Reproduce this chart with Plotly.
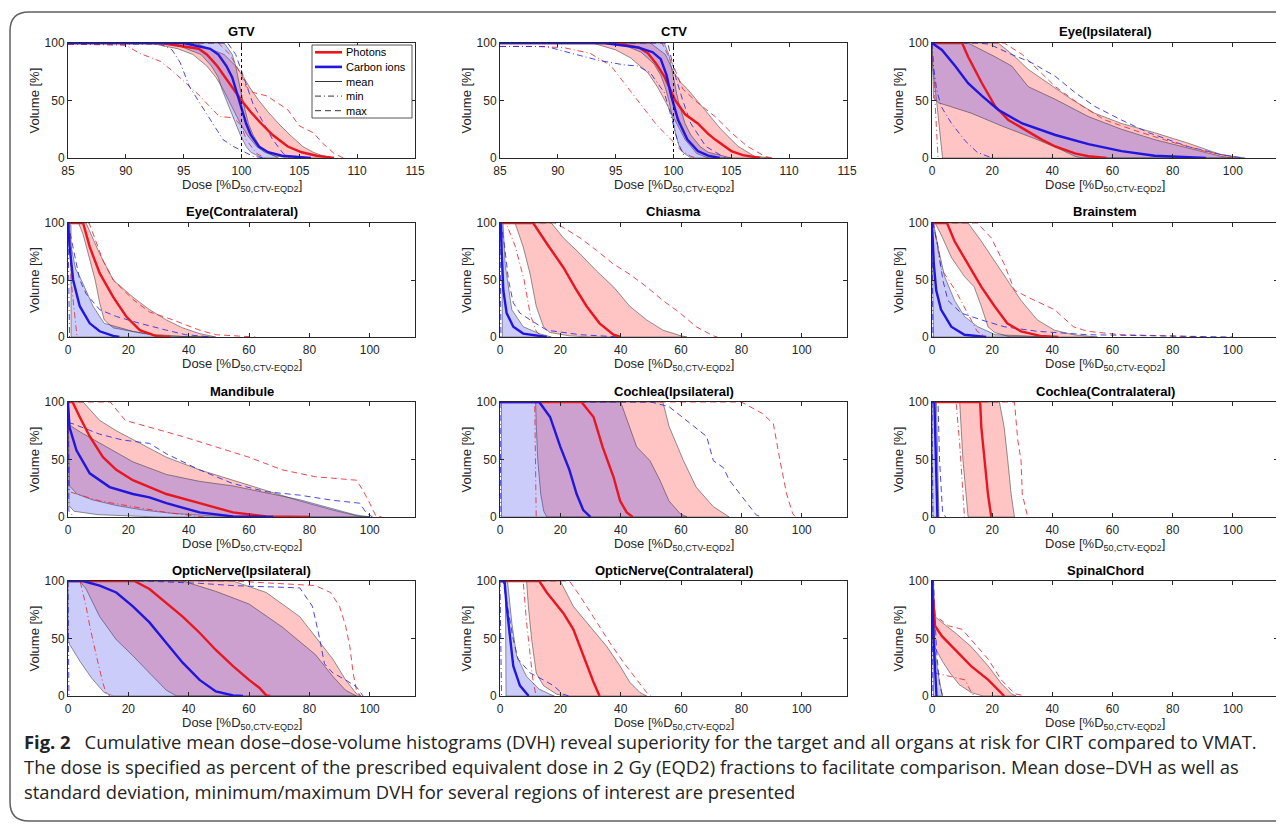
import plotly.graph_objects as go

W, H = 1284, 831
PAGE_MARGIN = 8  # default body margin of the html page; positions below are page pixels

# ---------------- data ----------------
TITLES = ["GTV", "CTV", "Eye(Ipsilateral)", "Eye(Contralateral)", "Chiasma", "Brainstem",
          "Mandibule", "Cochlea(Ipsilateral)", "Cochlea(Contralateral)",
          "OpticNerve(Ipsilateral)", "OpticNerve(Contralateral)", "SpinalChord"]
VOL_TICKS = [0, 50, 100]
TARGET_TICKS = [85, 90, 95, 100, 105, 110, 115]
OAR_TICKS = [0, 20, 40, 60, 80, 100]
TARGET_RANGE = [85, 115]
OAR_RANGE = [0, 115]
REF_DOSE = 100
LEGEND_LABELS = ["Photons", "Carbon ions", "mean", "min", "max"]
X_TITLE = "Dose [%D<sub>50,CTV-EQD2</sub>]"
Y_TITLE = "Volume [%]"

# each curve: [dose, volume] points; ph = photons, c = carbon ions
# lo/hi = band (mean +/- SD) boundaries
GTV = dict(
    ph_mean=[[93, 100], [96.3, 95], [97, 90], [97.9, 80], [98.6, 70], [99.3, 60], [100, 50], [100.8, 40], [101.7, 30], [102.7, 20], [104, 10], [105.2, 5], [106.5, 2], [108, 0]],
    ph_lo=[[92, 100], [94.5, 95], [95.8, 90], [97, 80], [97.8, 70], [98.4, 60], [98.9, 50], [99.4, 40], [99.9, 30], [100.5, 20], [101.3, 10], [102, 5], [102.8, 2], [104, 0]],
    ph_hi=[[96, 100], [98.5, 90], [99.5, 80], [100.2, 70], [100.8, 60], [101.5, 50], [102.3, 40], [103.2, 30], [104.2, 20], [105.3, 10], [106.2, 5], [107, 2], [108, 0]],
    c_mean=[[95, 100], [97.3, 95], [98, 90], [98.7, 80], [99.2, 70], [99.5, 60], [99.8, 50], [100.1, 40], [100.4, 30], [100.8, 20], [101.5, 10], [102.3, 5], [103.5, 2], [106, 0]],
    c_lo=[[94, 100], [96.5, 90], [97.4, 80], [98, 70], [98.3, 60], [98.7, 50], [99.1, 40], [99.5, 30], [99.9, 20], [100.4, 10], [100.8, 5], [101.8, 0]],
    c_hi=[[98.5, 100], [99.2, 90], [99.5, 80], [99.7, 70], [99.9, 60], [100.1, 50], [100.35, 40], [100.6, 30], [101, 20], [101.6, 10], [102.2, 5], [103.2, 0]],
    ph_min=[[85, 99], [90, 98], [91.2, 91], [93, 84], [94, 76], [95.2, 65], [96.4, 54], [97.5, 42], [98.1, 36], [99.3, 35], [100, 28], [100.4, 16], [101.3, 4], [102, 0]],
    c_min=[[85, 99], [93, 99], [94, 94], [94.7, 83], [95.5, 62], [96.4, 48], [97.5, 30], [98.4, 16], [99.3, 10], [100.1, 6], [101, 1.5], [102, 0]],
    ph_max=[[98, 100], [99, 90], [100, 72], [100.4, 62], [101, 57], [102.2, 54], [104, 42], [105, 28], [106.2, 22], [107, 13], [108, 4], [108.8, 0]],
    c_max=[[98.8, 100], [99.5, 90], [100, 75], [100.5, 60], [101, 47], [101.6, 36], [102.2, 25], [102.7, 16], [103.6, 4], [104.2, 0]],
)
CTV = dict(
    ph_mean=[[95, 100], [97, 96], [97.8, 91], [98.5, 82], [99.2, 71], [99.7, 60], [100.1, 51], [101, 38], [102.1, 30], [103, 21], [103.6, 16], [105, 6], [106, 2.5], [107.5, 0]],
    ph_lo=[[93, 100], [95, 94], [96.3, 87], [97.8, 74], [98.6, 62], [99.2, 51], [99.7, 41], [100.1, 33], [101, 16], [102, 4], [103, 0]],
    ph_hi=[[98, 100], [99.3, 90], [100, 75], [100.6, 66], [101.2, 60], [102.7, 42], [104.1, 25], [105.6, 10], [107, 1.5], [108.5, 0]],
    c_mean=[[94, 100], [97, 96], [98.2, 92], [98.9, 86], [99.4, 72], [99.8, 54], [100.1, 43], [100.4, 33], [101.2, 16], [102.1, 6], [103, 2], [104, 0]],
    c_lo=[[94.5, 100], [96, 97], [97.2, 92], [98.3, 82], [98.9, 72], [99.3, 61], [99.6, 50], [99.8, 40], [100, 30], [100.2, 20], [100.5, 10], [100.8, 5], [101.5, 0]],
    c_hi=[[99.2, 100], [99.6, 90], [99.8, 80], [100, 70], [100.2, 60], [100.4, 50], [100.7, 40], [101, 30], [101.5, 20], [102.3, 10], [103, 5], [105, 0]],
    ph_min=[[85, 97], [88, 97], [90.5, 96], [92.8, 91], [94.6, 80], [96, 62], [97.5, 42], [98.6, 28], [99.8, 16], [100.6, 7], [101.5, 1.5], [102, 0]],
    c_min=[[85, 97], [89, 97], [91.2, 91], [93.5, 85], [95.7, 81], [96.9, 80], [98, 74], [99.2, 57], [99.8, 36], [100.4, 13], [101, 0]],
    ph_max=[[99, 100], [100, 80], [100.8, 60], [102.1, 48], [103.6, 36], [105, 22], [106.4, 10], [107.9, 1.5], [108.5, 0]],
    c_max=[[99.5, 100], [100.2, 70], [100.8, 50], [101.5, 30], [102.8, 10], [104.5, 0]],
)
EYE_IPSI = dict(
    ph_mean=[[10, 100], [12, 88], [16.6, 65], [21, 45], [25.4, 33], [30, 26], [36.5, 16], [41, 10], [47.5, 4], [52, 1.5], [58, 0]],
    ph_lo=[[0, 100], [0.2, 80], [1.5, 50], [2.8, 20], [3.5, 0]],
    ph_hi=[[22, 100], [27.6, 88], [32, 77], [38.7, 65], [46.4, 51], [54, 39], [63, 30], [74, 22], [85, 13], [96, 3], [104, 0]],
    c_mean=[[0, 100], [3.3, 94], [7.7, 80], [12, 65], [16.6, 54], [22, 42], [30, 30], [41, 20], [52, 12], [63, 6], [74, 2], [91, 0]],
    c_lo=[[0, 100], [0.5, 52], [2.2, 48], [13, 39], [24, 27], [35, 16], [43, 7], [47.5, 1.5], [50, 0]],
    c_hi=[[12, 100], [21, 88], [26.5, 80], [32, 62], [41, 51], [52, 36], [63, 25], [74, 16], [85, 9], [96, 1.5], [100, 0]],
    ph_min=[[0, 100], [0.5, 70], [1.2, 40], [2, 0]],
    c_min=[[0, 100], [0.5, 80], [1.5, 60], [3, 45], [6.5, 30], [11, 15], [15, 5], [20, 0]],
    ph_max=[[24, 100], [30, 90], [35, 77], [41, 62], [50, 45], [57.5, 33], [68.5, 23], [79.5, 14], [90.6, 6], [101.6, 0]],
    c_max=[[15, 100], [19, 99], [26.5, 90], [33, 83], [41, 71], [47.5, 57], [54, 45], [63, 33], [72, 22], [85, 10], [96, 3], [103, 0]],
)
EYE_CONTRA = dict(
    ph_mean=[[5, 100], [7.2, 79], [10.5, 56], [15, 35], [19.3, 18], [23.8, 6], [29, 1], [34, 0]],
    ph_lo=[[3.5, 100], [5, 90], [7, 70], [9, 50], [10.5, 30], [12, 15], [15, 8], [25, 3], [40, 0]],
    ph_hi=[[6, 100], [10.5, 73], [15, 50], [21.5, 35], [27, 24], [32.6, 15], [38, 8], [43.6, 3], [49, 0]],
    c_mean=[[0, 100], [0.5, 80], [1.7, 50], [3.9, 27], [7.2, 12], [10.5, 5], [15, 1], [17, 0]],
    c_lo=[[0, 100], [1, 98], [1, 0]],
    c_hi=[[0.3, 100], [1, 80], [2.5, 60], [3.9, 53], [8.3, 27], [12, 12], [21.5, 5], [30, 1], [47, 0]],
    ph_min=[[0.5, 100], [1, 50], [3, 0]],
    c_min=[[0, 100], [0.5, 0]],
    ph_max=[[7, 100], [11.6, 67], [15, 50], [21.5, 33], [27, 22], [34.8, 15], [43.6, 6], [49, 2], [62, 0]],
    c_max=[[0, 100], [2.2, 70], [3.9, 50], [6, 38], [10.5, 24], [16, 18], [23.8, 12], [32.6, 6], [39, 2], [48, 0]],
)
CHIASMA = dict(
    ph_mean=[[11, 100], [15.5, 82], [21, 61], [25.4, 41], [28.7, 27], [33, 12], [37.6, 2], [40, 0]],
    ph_lo=[[5, 100], [7.7, 79], [10, 55], [12, 27], [14.4, 9], [16.5, 4], [23, 1], [30, 0]],
    ph_hi=[[17, 100], [21, 87], [26.5, 73], [32, 58], [37.6, 44], [43, 27], [48.6, 15], [54, 6], [60, 1], [62, 0]],
    c_mean=[[0.3, 100], [0.5, 79], [1.1, 41], [2.2, 21], [4.4, 9], [7.7, 3], [15.5, 0]],
    c_lo=[[0, 100], [0.6, 97], [0.8, 0]],
    c_hi=[[1, 100], [1.7, 64], [3.9, 24], [7.7, 9], [13, 3], [17, 0]],
    ph_min=[[2, 100], [5, 80], [8, 50], [10, 20], [12, 5], [14, 0]],
    c_min=[[0, 100], [0.3, 0]],
    ph_max=[[18, 100], [21, 96], [26.5, 87], [32, 76], [37.6, 64], [43, 55], [48.6, 44], [54, 32], [59.7, 21], [65, 9], [70.7, 1], [72, 0]],
    c_max=[[0.3, 100], [1.5, 80], [2.8, 50], [4.4, 30], [6.6, 21], [10, 15], [15.5, 6], [26.5, 2], [40, 0]],
)
BRAINSTEM = dict(
    ph_mean=[[5, 100], [7.5, 84], [12, 64], [16.4, 44], [20.8, 27], [25, 12], [29.6, 5], [36, 1], [42, 0]],
    ph_lo=[[1, 100], [3, 90], [6.4, 70], [10.8, 53], [14, 44], [16.4, 27], [18.6, 9], [20.8, 4], [26, 0]],
    ph_hi=[[12, 100], [16.4, 84], [20.8, 67], [25, 50], [29.6, 32], [35, 15], [40.7, 6], [47, 2], [55, 0]],
    c_mean=[[0, 100], [0.6, 64], [1.4, 41], [3, 24], [6.4, 9], [10.8, 2], [18, 0]],
    c_lo=[[0, 100], [0.5, 0]],
    c_hi=[[0.5, 100], [2, 79], [4.2, 53], [7.5, 32], [10.8, 18], [15.2, 9], [18.6, 5], [21, 2], [40, 0]],
    ph_min=[[0.5, 100], [3, 60], [8, 40], [12, 20], [15, 5], [18, 0]],
    c_min=[[0, 100], [0.3, 0]],
    ph_max=[[15, 100], [19.7, 87], [24, 64], [27.4, 41], [31.8, 35], [40.7, 24], [47, 9], [51.7, 5], [62.8, 2], [79, 1], [90, 0]],
    c_max=[[0.3, 100], [2, 79], [3.6, 50], [5.3, 32], [9.7, 21], [16.4, 15], [24, 9], [35, 5], [51.7, 2], [75, 1], [100, 0]],
)
MANDIBULE = dict(
    ph_mean=[[1.5, 100], [3.9, 87], [7.2, 70], [11.6, 52], [16, 41], [21.5, 32], [27, 26], [32.6, 20], [43.6, 12], [54.7, 4], [65.7, 0.5], [80, 0]],
    ph_lo=[[0, 100], [0.5, 27], [3, 20], [8, 15], [16, 10], [25, 6], [35, 3], [48, 1], [60, 0]],
    ph_hi=[[5, 100], [10.5, 84], [16, 75], [21.5, 67], [32.6, 52], [43.6, 41], [54.7, 32], [65.7, 23], [76.8, 14], [87.8, 6], [96.7, 0.5], [100, 0]],
    c_mean=[[0, 100], [0.5, 78], [2.8, 58], [7.2, 38], [13.8, 26], [21.5, 20], [27, 17], [32.6, 12], [43.6, 4], [54.7, 0.5], [68, 0]],
    c_lo=[[0, 100], [0.3, 10], [2, 5], [10, 2], [30, 0]],
    c_hi=[[0, 100], [0.5, 80], [4, 74], [10.5, 64], [16, 56], [21.5, 48], [32.6, 37], [43.6, 31], [54.7, 27], [65.7, 21], [76.8, 15], [87.8, 7], [95, 2], [100, 0]],
    ph_min=[[0, 100], [0.5, 22], [2.8, 20], [10.5, 14], [21.5, 9], [32.6, 4], [45, 0]],
    c_min=[[0, 100], [0.3, 5], [2, 0]],
    ph_max=[[14, 100], [19, 84], [27, 78], [38, 70], [49, 61], [60, 52], [71, 41], [82, 35], [95.6, 32], [97.8, 23], [100, 12], [102, 1], [104, 0]],
    c_max=[[0, 100], [0.3, 82], [1.7, 81], [10.5, 72], [18, 67], [27, 64], [32.6, 55], [43.6, 41], [54.7, 29], [65.7, 22], [76.8, 19], [87.8, 14.5], [96.7, 12], [99, 3], [101, 0]],
)
COCHLEA_IPSI = dict(
    ph_mean=[[27, 100], [31, 87], [34, 61], [37.6, 35], [39.8, 14], [42, 4], [44, 0]],
    ph_lo=[[11.8, 100], [12, 80], [12.5, 50], [13.5, 20], [14.5, 5], [15.5, 0]],
    ph_hi=[[54, 100], [56, 79], [60.8, 49], [65, 26], [70.7, 9], [76, 0]],
    c_mean=[[13, 100], [16.6, 87], [20, 61], [23, 41], [25.4, 20], [27.6, 6], [30, 0]],
    c_lo=[[0, 100], [0.5, 99], [0.5, 0]],
    c_hi=[[40, 100], [43, 78], [45.3, 61], [49.7, 49], [53, 32], [56, 14], [59.7, 3], [62, 0]],
    ph_min=[[11.5, 100], [12, 0]],
    c_min=[[0, 100], [0.3, 0]],
    ph_max=[[80, 100], [87, 90], [90.6, 81], [92.8, 49], [95, 20], [97, 3], [98, 0]],
    c_max=[[50, 100], [56, 96], [63, 81], [68.5, 70], [70.7, 49], [74, 43], [76, 32], [79.6, 20], [83, 9], [85, 1.5], [87, 0]],
)
COCHLEA_CONTRA = dict(
    ph_mean=[[16, 100], [16.4, 78], [17.5, 49], [18.6, 20], [19.7, 0]],
    ph_lo=[[9.2, 100], [10.3, 49], [11.4, 20], [12, 0]],
    ph_hi=[[22.4, 100], [24, 78], [25.2, 49], [26.3, 20], [27.4, 0]],
    c_mean=[[0.8, 100], [1.3, 50], [1.8, 0]],
    c_lo=[[0, 100], [0.3, 0]],
    c_hi=[[1.5, 100], [2, 50], [2.3, 0]],
    ph_min=[[8, 100], [9.2, 64], [10.3, 20], [10.8, 0]],
    c_min=[[0, 100], [0.3, 0]],
    ph_max=[[27.4, 100], [28.5, 67], [29.6, 49], [30, 20], [31.8, 0]],
    c_max=[[2, 100], [2.5, 50], [3, 20], [3.5, 5], [4.5, 0]],
)
OPTIC_IPSI = dict(
    ph_mean=[[22, 100], [27, 93], [32.6, 81], [38, 69], [43.6, 55], [49, 40], [54.7, 26], [60, 14], [63.5, 7], [65.7, 0.5], [67, 0]],
    ph_lo=[[3.9, 100], [6, 93], [10.5, 69], [16, 49], [21.5, 35], [27, 20], [32.6, 5], [36, 0]],
    ph_hi=[[54.7, 100], [65.7, 90], [76.8, 69], [82, 52], [87.8, 32], [92, 14], [95.6, 2], [97, 0]],
    c_mean=[[5, 100], [10.5, 96], [16, 90], [21.5, 78], [27, 64], [32.6, 46], [38, 29], [43.6, 14], [49, 4], [54.7, 0.5], [58, 0]],
    c_lo=[[0, 100], [0, 50], [0.5, 45], [4, 30], [8, 15], [12, 3], [15, 0]],
    c_hi=[[38, 100], [49, 91], [60, 80], [71, 60], [82, 36], [87.8, 17], [92, 5], [95.6, 0]],
    ph_min=[[4, 100], [6, 78], [7.2, 61], [9.4, 35], [11.6, 11], [12.7, 2], [14, 0]],
    c_min=[[0, 100], [0.3, 0]],
    ph_max=[[55, 100], [82, 96], [87, 90], [90, 78], [92, 61], [93.4, 43], [94.5, 20], [95.6, 5], [97, 0]],
    c_max=[[25, 100], [43.6, 98], [54.7, 96], [76.8, 94], [81, 78], [83, 55], [85, 28], [87.8, 20], [92, 14], [95.6, 8], [97.8, 0]],
)
OPTIC_CONTRA = dict(
    ph_mean=[[13, 100], [15.5, 90], [21, 72], [24.3, 58], [27.6, 35], [31, 12], [33, 0]],
    ph_lo=[[8.8, 100], [9.4, 78], [10.5, 49], [12, 20], [14.4, 9], [18.8, 1.5], [22, 0]],
    ph_hi=[[20, 100], [24.3, 78], [29.8, 61], [35.4, 43], [39.8, 26], [43, 12], [46.4, 3], [48.6, 0]],
    c_mean=[[1.5, 100], [2.2, 78], [3.3, 49], [4.4, 26], [6.6, 9], [8.8, 1.5], [9.5, 0]],
    c_lo=[[0, 100], [1.8, 98], [2, 0]],
    c_hi=[[2.5, 100], [3.9, 64], [5.5, 35], [8.8, 17], [13, 6], [16.5, 1.5], [18, 0]],
    ph_min=[[7.7, 100], [8.8, 64], [10, 35], [11, 12], [12, 0]],
    c_min=[[0, 100], [0.5, 0]],
    ph_max=[[23, 100], [26.5, 87], [32, 64], [36.5, 46], [41, 29], [45.3, 14], [48.6, 3], [50, 0]],
    c_max=[[1, 100], [3, 70], [4.4, 49], [6, 32], [10, 20], [14.4, 14], [17.7, 9], [21, 1.5], [23, 0]],
)
SPINAL = dict(
    ph_mean=[[0, 100], [0.5, 78], [1, 61], [3.3, 52], [7.7, 40], [13, 26], [18.7, 14], [22, 5], [24, 0]],
    ph_lo=[[0, 100], [0.3, 60], [1, 42], [3.5, 30], [6, 20], [9, 10], [13, 3], [17, 0]],
    ph_hi=[[0, 100], [0.5, 70], [3.3, 64], [7.7, 55], [13, 43], [18.7, 26], [23, 11], [26.4, 2], [28, 0]],
    c_mean=[[0, 100], [0.5, 50], [1.5, 0]],
    c_lo=[[0, 100], [0.5, 0]],
    c_hi=[[0.5, 100], [1, 40], [2, 20], [3.5, 0]],
    ph_min=[[0, 100], [0.5, 50], [1, 20], [7.7, 16], [11, 14], [12.7, 5], [14, 0]],
    c_min=[[0, 100], [0.3, 0]],
    ph_max=[[0, 100], [1, 70], [5.5, 61], [10, 58], [13, 49], [18.7, 32], [23, 14], [27.5, 2], [31, 0]],
    c_max=[[0.5, 100], [1.5, 40], [2.5, 10], [3.5, 0]],
)

PANEL_DATA = [GTV, CTV, EYE_IPSI, EYE_CONTRA, CHIASMA, BRAINSTEM, MANDIBULE,
              COCHLEA_IPSI, COCHLEA_CONTRA, OPTIC_IPSI, OPTIC_CONTRA, SPINAL]
IS_TARGET = [True, True] + [False] * 10

CAPTION_LINES = [
    "<b>Fig. 2</b>\u2002 Cumulative mean dose\u2013dose-volume histograms (DVH) reveal superiority for the target and all organs at risk for CIRT compared to VMAT.",
    "The dose is specified as percent of the prescribed equivalent dose in 2 Gy (EQD2) fractions to facilitate comparison. Mean dose\u2013DVH as well as",
    "standard deviation, minimum/maximum DVH for several regions of interest are presented",
]

# ---------------- layout / style ----------------
COL_X = [(68, 415), (500, 847), (932, 1278)]
ROW_Y = [(43, 158), (223, 337), (402, 517), (581, 696)]

RED = "rgb(232,22,32)"
BLUE = "rgb(32,22,222)"
RED_THIN = "rgba(232,40,50,0.85)"
BLUE_THIN = "rgba(40,40,225,0.85)"
RED_FILL = "rgba(255,40,40,0.27)"
BLUE_FILL = "rgba(40,40,240,0.24)"
EDGE = "rgba(50,50,50,0.75)"
AX_COL = "rgb(40,40,40)"
FONT = "Liberation Sans, Arial, sans-serif"


def px(v):
    return (v - PAGE_MARGIN) / W


def py(v):
    return 1 - (v - PAGE_MARGIN) / H


fig = go.Figure()


def curve(pts, xmin):
    xs = [p[0] for p in pts]
    ys = [p[1] for p in pts]
    if ys[0] >= 100 and xs[0] > xmin:
        xs = [xmin] + xs
        ys = [100] + ys
    return xs, ys


annotations = []
shapes = []
layout_axes = {}

for i, data in enumerate(PANEL_DATA):
    r, c = divmod(i, 3)
    sfx = "" if i == 0 else str(i + 1)
    xa, ya = "x" + sfx, "y" + sfx
    xr = TARGET_RANGE if IS_TARGET[i] else OAR_RANGE
    xt = TARGET_TICKS if IS_TARGET[i] else OAR_TICKS
    xmin = xr[0]
    x0, x1 = COL_X[c]
    y0, y1 = ROW_Y[r]

    # SD bands
    for lo, hi, fill in [(data["ph_lo"], data["ph_hi"], RED_FILL),
                         (data["c_lo"], data["c_hi"], BLUE_FILL)]:
        lx, ly = curve(lo, xmin)
        hx, hy = curve(hi, xmin)
        fig.add_trace(go.Scatter(
            x=lx + hx[::-1], y=ly + hy[::-1], xaxis=xa, yaxis=ya, mode="lines",
            fill="toself", fillcolor=fill, line=dict(color=EDGE, width=0.7),
            hoverinfo="skip", showlegend=False))

    # min / max
    for key, col, dash in [("ph_min", RED_THIN, "dashdot"), ("c_min", BLUE_THIN, "dashdot"),
                           ("ph_max", RED_THIN, "dash"), ("c_max", BLUE_THIN, "dash")]:
        cx, cy = curve(data[key], xmin)
        fig.add_trace(go.Scatter(
            x=cx, y=cy, xaxis=xa, yaxis=ya, mode="lines",
            line=dict(color=col, width=1, dash="6px,3px,1px,3px" if dash == "dashdot" else "6px,4px"),
            hoverinfo="skip", showlegend=False))

    # means
    for key, col in [("ph_mean", RED), ("c_mean", BLUE)]:
        cx, cy = curve(data[key], xmin)
        fig.add_trace(go.Scatter(
            x=cx, y=cy, xaxis=xa, yaxis=ya, mode="lines",
            line=dict(color=col, width=2.4), hoverinfo="skip", showlegend=False))

    if IS_TARGET[i]:
        fig.add_trace(go.Scatter(
            x=[REF_DOSE, REF_DOSE], y=[0, 100], xaxis=xa, yaxis=ya, mode="lines",
            line=dict(color="black", width=1, dash="dot"), hoverinfo="skip", showlegend=False))

    common = dict(showline=True, mirror="ticks", linecolor=AX_COL, linewidth=1,
                  ticks="inside", ticklen=4, tickcolor=AX_COL, showgrid=False, zeroline=False,
                  automargin=False, fixedrange=True,
                  tickfont=dict(family=FONT, size=12, color="rgb(38,38,38)"))
    layout_axes["xaxis" + sfx] = dict(domain=[px(x0), px(x1)], anchor=ya, range=xr, tickvals=xt,
                                      ticklabelstandoff=2, **common)
    layout_axes["yaxis" + sfx] = dict(domain=[py(y1), py(y0)], anchor=xa, range=[0, 100],
                                      tickvals=VOL_TICKS, **common)

    # titles
    annotations.append(dict(text="<b>%s</b>" % TITLES[i], x=px((x0 + x1) / 2), y=py(y0 - 11),
                            xref="paper", yref="paper", showarrow=False, xanchor="center", yanchor="middle",
                            font=dict(family=FONT, size=13, color="black")))
    annotations.append(dict(text=X_TITLE, x=px((x0 + x1) / 2), y=py(y1 + 27),
                            xref="paper", yref="paper", showarrow=False, xanchor="center", yanchor="middle",
                            font=dict(family=FONT, size=13, color="rgb(38,38,38)")))
    annotations.append(dict(text=Y_TITLE, x=px(x0 - 34), y=py((y0 + y1) / 2), textangle=-90,
                            xref="paper", yref="paper", showarrow=False, xanchor="center", yanchor="middle",
                            font=dict(family=FONT, size=13, color="rgb(38,38,38)")))

# ---------------- legend (inside GTV panel) ----------------
LX0, LX1, LY0, LY1 = 312, 412, 45, 118
shapes.append(dict(type="rect", xref="paper", yref="paper", x0=px(LX0), x1=px(LX1),
                   y0=py(LY1), y1=py(LY0), line=dict(color=AX_COL, width=0.8),
                   fillcolor="white", layer="above"))
leg_styles = [(RED, 2.6, "solid"), (BLUE, 2.6, "solid"), ("black", 0.8, "solid"),
              ("black", 0.8, "6px,3px,1px,3px"), ("black", 0.8, "6px,4px")]
row_h = (LY1 - LY0) / len(LEGEND_LABELS)
for k, lab in enumerate(LEGEND_LABELS):
    yy = LY0 + row_h * (k + 0.5)
    col, wd, ds = leg_styles[k]
    shapes.append(dict(type="line", xref="paper", yref="paper", x0=px(315), x1=px(342),
                       y0=py(yy), y1=py(yy), line=dict(color=col, width=wd, dash=ds), layer="above"))
    annotations.append(dict(text=lab, x=px(344), y=py(yy), xref="paper", yref="paper",
                            showarrow=False, xanchor="left", yanchor="middle",
                            font=dict(family=FONT, size=11, color="black")))

# ---------------- figure frame and caption ----------------
shapes.append(dict(type="path", xref="paper", yref="paper", layer="below",
                   path="M %f,%f L %f,%f Q %f,%f %f,%f L %f,%f Q %f,%f %f,%f L %f,%f" % (
                       px(1300), py(12), px(29), py(12), px(10), py(12), px(10), py(31),
                       px(10), py(802), px(10), py(821), px(29), py(821), px(1300), py(821)),
                   line=dict(color="rgb(95,95,95)", width=1.5)))

for k, line in enumerate(CAPTION_LINES):
    annotations.append(dict(text=line, x=px(22), y=py(741 + 25 * k), xref="paper", yref="paper",
                            showarrow=False, xanchor="left", yanchor="middle", align="left",
                            font=dict(family="Open Sans, sans-serif", size=18.4, color="rgb(35,35,35)")))

fig.update_layout(
    width=W, height=H, margin=dict(l=0, r=0, t=0, b=0),
    paper_bgcolor="white", plot_bgcolor="white", showlegend=False,
    annotations=annotations, shapes=shapes, **layout_axes)

fig.write_html("out.html")
